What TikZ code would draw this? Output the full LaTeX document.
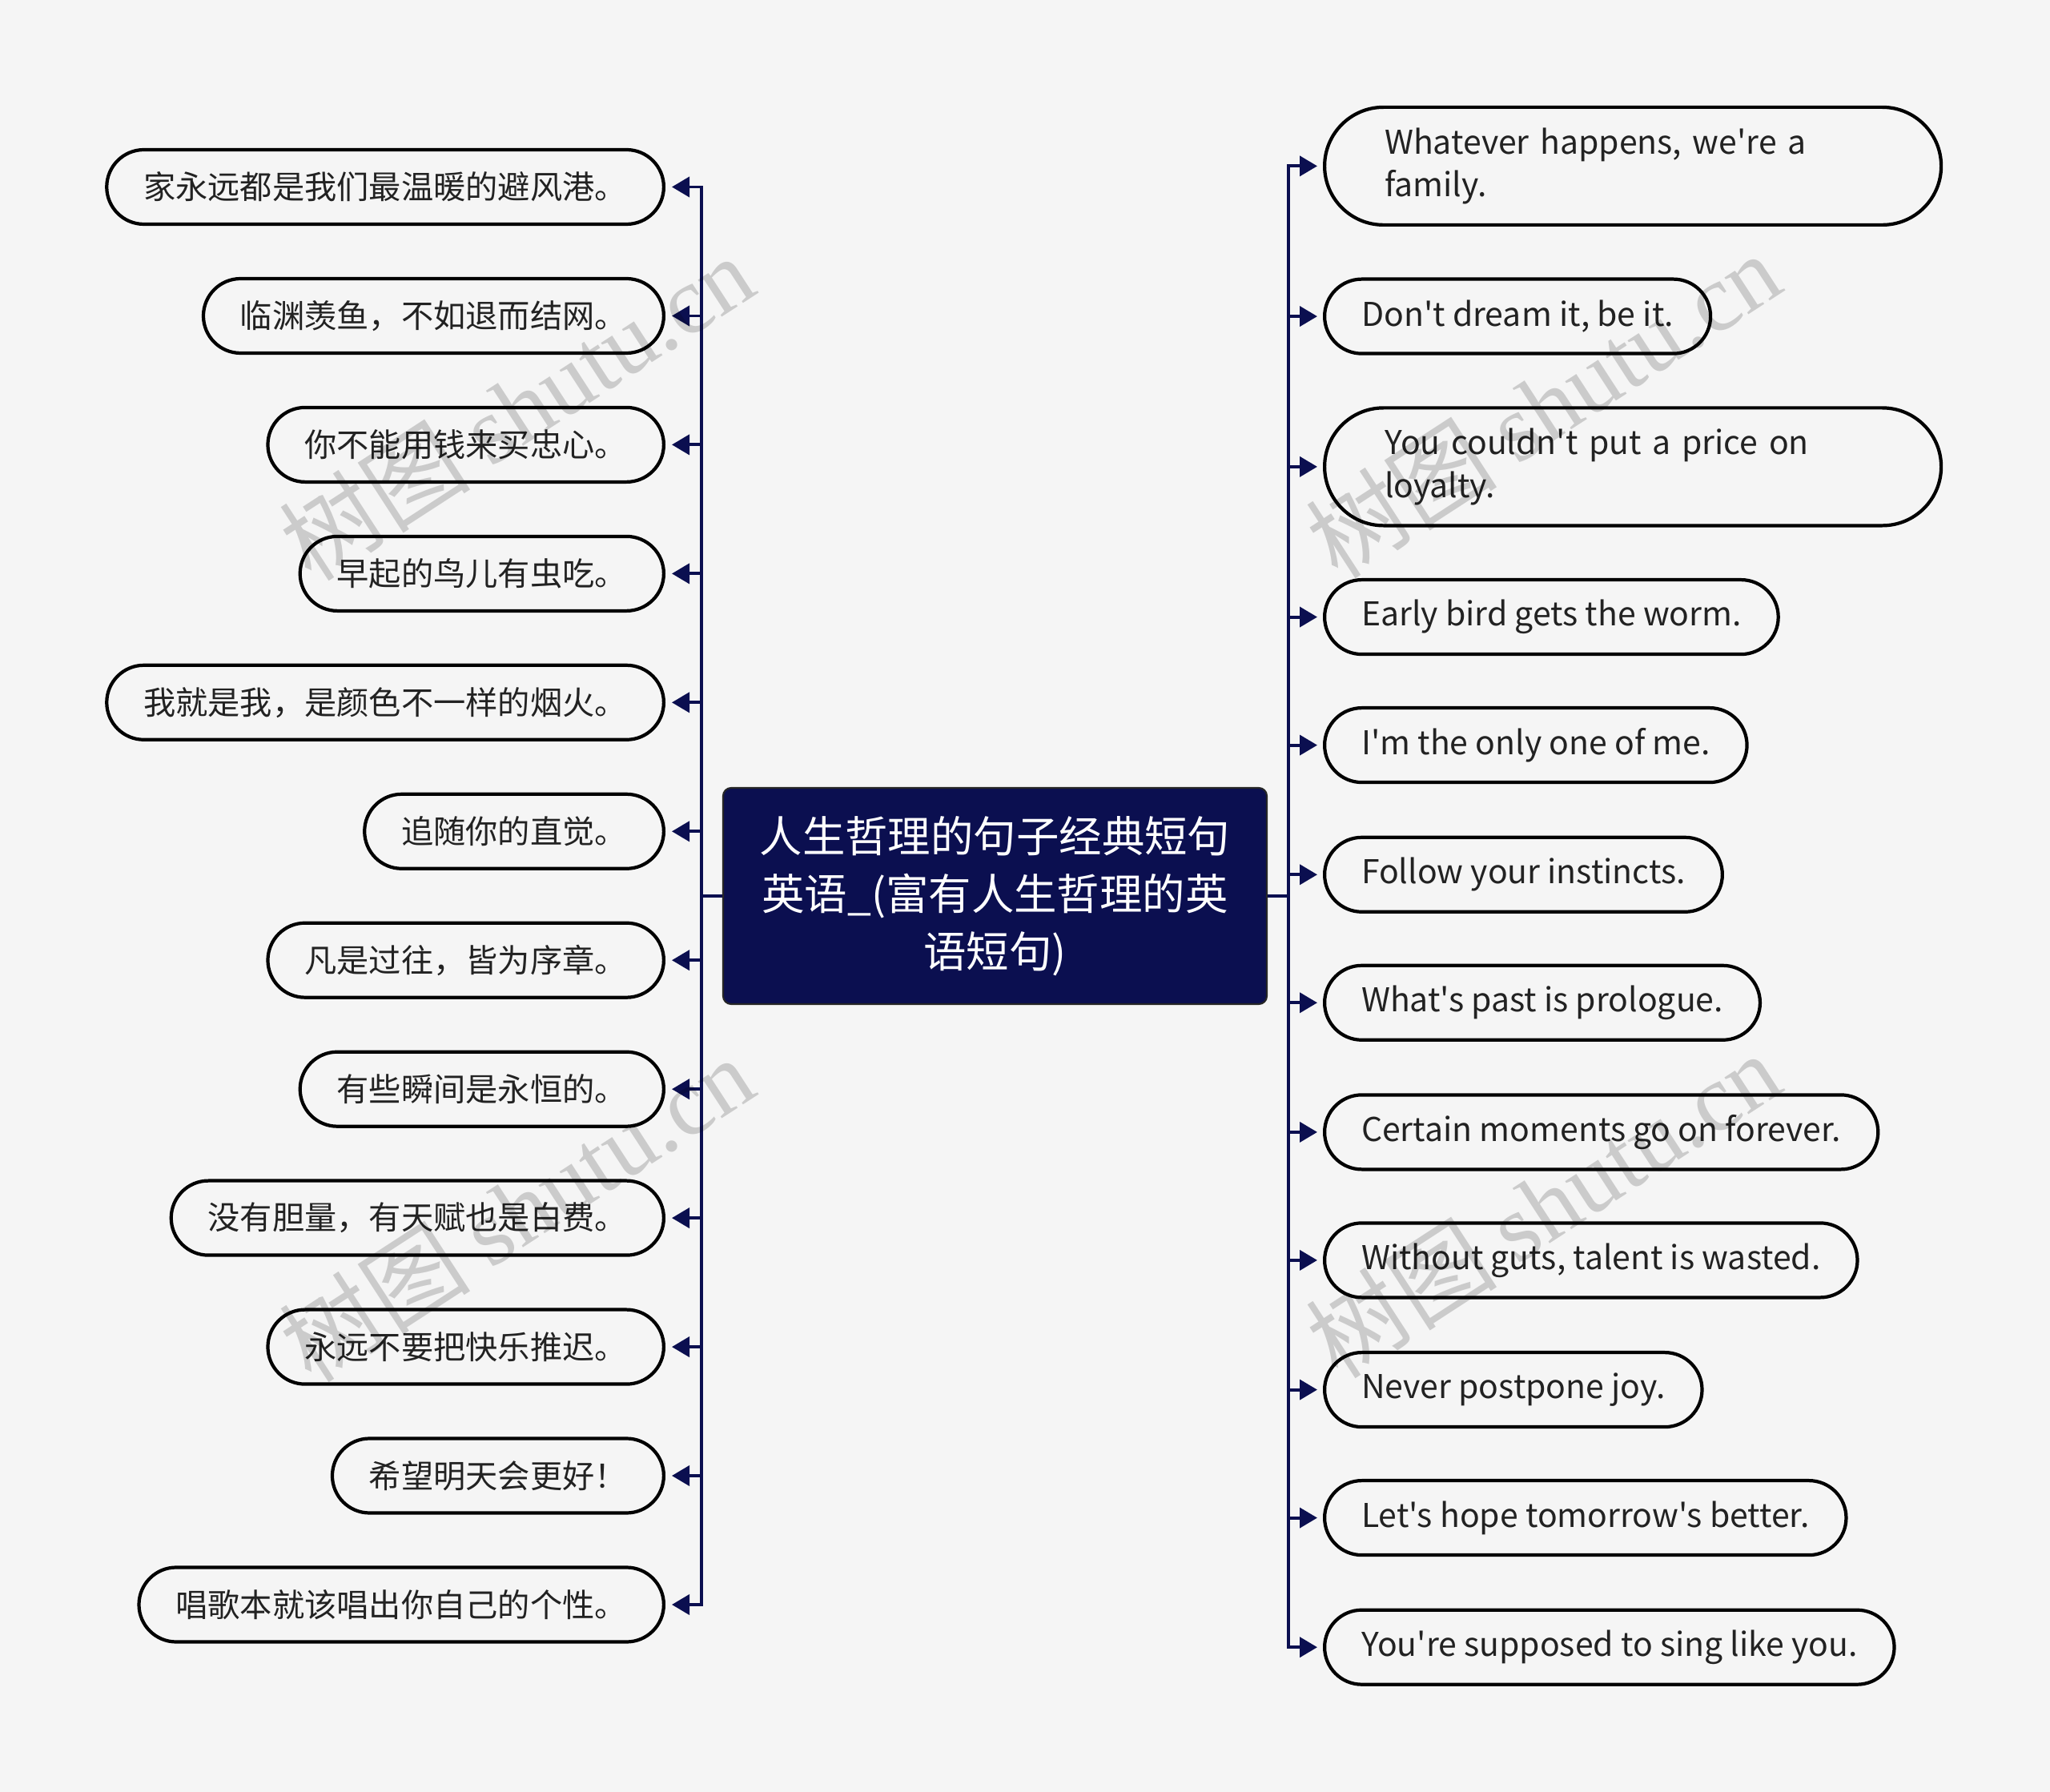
\documentclass[tikz,border=0pt]{standalone}
\usepackage{fontspec}
\setmainfont{Noto Sans CJK SC}
\newfontfamily\cjk{Noto Sans CJK SC}
\newfontfamily\wmserif{Liberation Serif}
\usetikzlibrary{arrows.meta}
\definecolor{bgc}{HTML}{F5F5F5}
\definecolor{navy}{HTML}{0B0F50}
\definecolor{txt}{HTML}{222222}
\tikzset{
  leaf/.style={draw=black, line width=1.2pt, fill=bgc, rounded corners=0.465cm,
    minimum height=0.93cm, inner xsep=0.46cm, inner ysep=0pt, text=txt,
    font=\cjk\fontsize{11.45pt}{15.3pt}\selectfont},
  eng/.style={leaf, font=\cjk\fontsize{11.65pt}{15.3pt}\selectfont},
  engtwo/.style={eng, rounded corners=0.735cm, minimum height=1.47cm,
    text width=6.2cm, align=left, inner xsep=0.75cm},
  rootbox/.style={draw=black!85, line width=0.6pt, fill=navy, rounded corners=0.1cm,
    minimum width=6.79cm, minimum height=2.70cm, text width=6.4cm, align=center,
    text=white, font=\cjk\fontsize{15.2pt}{20.5pt}\selectfont},
  conn/.style={draw=navy, line width=1.1pt, line join=miter,
    -{Triangle[length=0.22cm,width=0.25cm]}},
  wm/.style={text=black, opacity=0.17, rotate=33, font=\fontsize{34pt}{34pt}\selectfont}
}
\begin{document}
\begin{tikzpicture}
\useasboundingbox (0,0) rectangle (25.6,-22.38);
\fill[bgc] (0,0) rectangle (25.6,-22.38);

\node[rootbox] (root) at (12.425,-11.19) {人生哲理的句子经典短句\\英语\_(富有人生哲理的英\\语短句)};

% left nodes
\node[leaf, anchor=east] (l1) at (8.31,-2.335) {家永远都是我们最温暖的避风港。};
\node[leaf, anchor=east] (l2) at (8.31,-3.945) {临渊羡鱼，不如退而结网。};
\node[leaf, anchor=east] (l3) at (8.31,-5.554) {你不能用钱来买忠心。};
\node[leaf, anchor=east] (l4) at (8.31,-7.164) {早起的鸟儿有虫吃。};
\node[leaf, anchor=east] (l5) at (8.31,-8.773) {我就是我，是颜色不一样的烟火。};
\node[leaf, anchor=east] (l6) at (8.31,-10.383) {追随你的直觉。};
\node[leaf, anchor=east] (l7) at (8.31,-11.992) {凡是过往，皆为序章。};
\node[leaf, anchor=east] (l8) at (8.31,-13.602) {有些瞬间是永恒的。};
\node[leaf, anchor=east] (l9) at (8.31,-15.211) {没有胆量，有天赋也是白费。};
\node[leaf, anchor=east] (l10) at (8.31,-16.821) {永远不要把快乐推迟。};
\node[leaf, anchor=east] (l11) at (8.31,-18.430) {希望明天会更好！};
\node[leaf, anchor=east] (l12) at (8.31,-20.040) {唱歌本就该唱出你自己的个性。};

% right nodes
\node[engtwo, anchor=west] (r1) at (16.52,-2.074) {Whatever happens, we're a\\family.};
\node[eng, anchor=west] (r2) at (16.52,-3.951) {Don't dream it, be it.};
\node[engtwo, anchor=west] (r3) at (16.52,-5.829) {You couldn't put a price on\\loyalty.};
\node[eng, anchor=west] (r4) at (16.52,-7.706) {Early bird gets the worm.};
\node[eng, anchor=west] (r5) at (16.52,-9.306) {I'm the only one of me.};
\node[eng, anchor=west] (r6) at (16.52,-10.923) {Follow your instincts.};
\node[eng, anchor=west] (r7) at (16.52,-12.523) {What's past is prologue.};
\node[eng, anchor=west] (r8) at (16.52,-14.139) {Certain moments go on forever.};
\node[eng, anchor=west] (r9) at (16.52,-15.739) {Without guts, talent is wasted.};
\node[eng, anchor=west] (r10) at (16.52,-17.356) {Never postpone joy.};
\node[eng, anchor=west] (r11) at (16.52,-18.956) {Let's hope tomorrow's better.};
\node[eng, anchor=west] (r12) at (16.52,-20.572) {You're supposed to sing like you.};

% connectors
\foreach \i in {1,...,12}{
  \draw[conn] (root.west) -- ++(-0.26,0) |- ([xshift=0.08cm]l\i.east);
  \draw[conn] (root.east) -- ++(0.26,0) |- ([xshift=-0.07cm]r\i.west);
}

% watermarks
\node[wm] (w1) at (6.45,-5.09) {{\cjk 树图} {\wmserif shutu.cn}};
\node[wm] (w2) at (6.45,-15.10) {{\cjk 树图} {\wmserif shutu.cn}};
\node[wm] (w3) at (19.27,-5.06) {{\cjk 树图} {\wmserif shutu.cn}};
\node[wm] (w4) at (19.27,-15.05) {{\cjk 树图} {\wmserif shutu.cn}};
\end{tikzpicture}
\end{document}
